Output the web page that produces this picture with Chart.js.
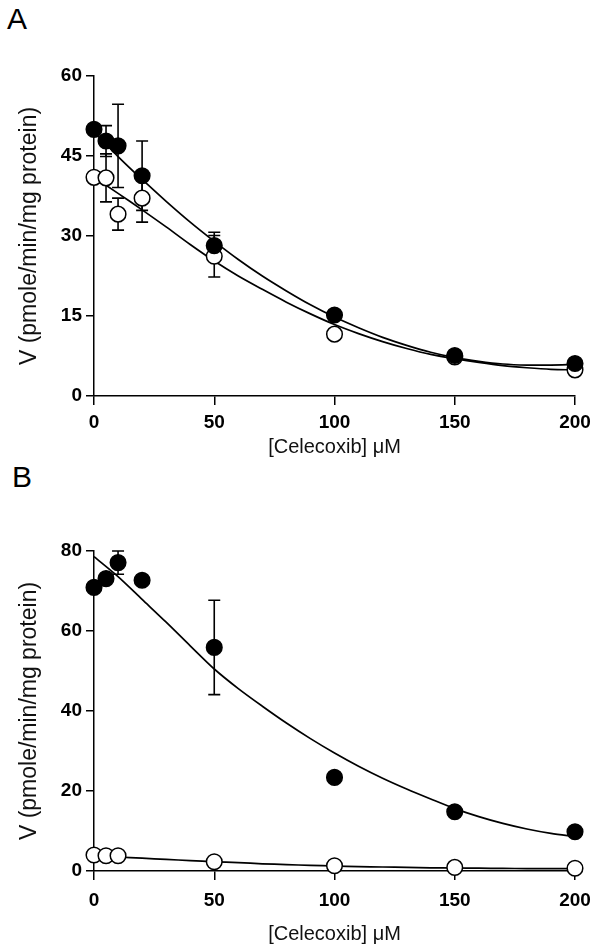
<!DOCTYPE html>
<html>
<head>
<meta charset="utf-8">
<script src="https://cdn.jsdelivr.net/npm/chart.js@4.4.1/dist/chart.umd.min.js"></script>
<style>
  body { margin: 0; background: #fff; }
  #wrap { position: relative; width: 601px; height: 952px; background: #fff; }
  canvas { position: absolute; left: 0; }
  .panel { position: absolute; font-family: "Liberation Sans", Arial, sans-serif; font-size: 30px; color: #000; line-height: 1; }
</style>
</head>
<body>
<div id="wrap">
  <div class="panel" style="left:7px; top:4px;">A</div>
  <div class="panel" style="left:12px; top:462px;">B</div>
  <canvas id="chartA" width="601" height="470" style="top:0;"></canvas>
  <canvas id="chartB" width="601" height="482" style="top:470px;"></canvas>
</div>
<script>
// concentrations (µM)
const conc = [0, 5, 10, 20, 50, 100, 150, 200];

// panel A - measured rates
const aFilled = [50.0, 47.8, 46.9, 41.3, 28.2, 15.2, 7.6, 6.1];
const aFilledErr = [0, 2.9, 7.8, 6.5, 2.5, 0, 0, 0];
const aOpen = [41.0, 40.9, 34.1, 37.1, 26.2, 11.6, 7.3, 4.9];
const aOpenErr = [0, 4.5, 3.0, 4.5, 3.9, 0, 0, 0];

// panel B - measured rates
const bFilled = [70.9, 73.1, 77.1, 72.7, 55.9, 23.4, 14.8, 9.8];
const bFilledErr = [0, 0, 2.9, 0, 11.8, 0, 0, 0];
const bOpenX = [0, 5, 10, 50, 100, 150, 200];
const bOpen = [4.0, 3.8, 3.8, 2.3, 1.3, 0.9, 0.7];

// fitted curves
const fitX = [0, 10, 20, 30, 40, 50, 60, 70, 80, 90, 100, 110, 120, 130, 140, 150, 160, 170, 180, 190, 200];
const aFitFilled = [49.5, 44.9, 40.6, 36.5, 32.6, 29.0, 25.6, 22.5, 19.7, 17.1, 14.8, 12.8, 11.0, 9.5, 8.2, 7.2, 6.5, 6.0, 5.8, 5.8, 5.9];
const aFitOpen = [41.0, 38.0, 34.9, 31.7, 28.4, 25.3, 22.5, 20.0, 17.6, 15.4, 13.4, 11.7, 10.2, 8.9, 7.8, 7.0, 6.3, 5.7, 5.3, 5.0, 4.9];
const bFitFilled = [78.6, 73.6, 67.9, 62.2, 56.3, 50.5, 45.6, 41.2, 37.0, 33.1, 29.5, 26.2, 23.2, 20.5, 18.0, 15.6, 13.6, 11.9, 10.5, 9.4, 8.6];
const bFitOpen = [3.8, 3.5, 3.2, 2.9, 2.6, 2.3, 2.1, 1.8, 1.6, 1.4, 1.25, 1.1, 1.0, 0.9, 0.8, 0.75, 0.7, 0.65, 0.6, 0.6, 0.6];

const xTicks = [0, 50, 100, 150, 200];
const aYTicks = [0, 15, 30, 45, 60];
const bYTicks = [0, 20, 40, 60, 80];

const FONT = '"Liberation Sans", Arial, sans-serif';

function pts(xs, ys) {
  return xs.map((x, i) => ({ x: x, y: ys[i] }));
}

// vertical error bars with caps, drawn under the markers
const errorBars = {
  id: 'errorBars',
  beforeDatasetsDraw(chart) {
    const ctx = chart.ctx;
    const xs = chart.scales.x, ys = chart.scales.y;
    chart.data.datasets.forEach(ds => {
      if (!ds.errors) return;
      ds.data.forEach((p, i) => {
        const e = ds.errors[i];
        if (!e) return;
        const px = xs.getPixelForValue(p.x);
        const top = ys.getPixelForValue(p.y + e);
        const bot = ys.getPixelForValue(p.y - e);
        ctx.save();
        ctx.strokeStyle = '#000';
        ctx.lineWidth = 1.6;
        ctx.beginPath();
        ctx.moveTo(px, top); ctx.lineTo(px, bot);
        ctx.moveTo(px - 6, top); ctx.lineTo(px + 6, top);
        ctx.moveTo(px - 6, bot); ctx.lineTo(px + 6, bot);
        ctx.stroke();
        ctx.restore();
      });
    });
  }
};

function makeChart(id, cfg) {
  const canvasH = cfg.height;
  return new Chart(document.getElementById(id), {
    type: 'scatter',
    data: {
      datasets: [
        { data: pts(fitX, cfg.fit1), showLine: true, pointRadius: 0, borderColor: '#000', borderWidth: 1.7, tension: 0.3, order: 4 },
        { data: pts(fitX, cfg.fit2), showLine: true, pointRadius: 0, borderColor: '#000', borderWidth: 1.7, tension: 0.3, order: 3 },
        { data: cfg.open, errors: cfg.openErr, pointRadius: 7.8, pointBorderWidth: 1.5, pointBackgroundColor: '#fff', pointBorderColor: '#000', order: 2 },
        { data: cfg.filled, errors: cfg.filledErr, pointRadius: 7.8, pointBorderWidth: 1.5, pointBackgroundColor: '#000', pointBorderColor: '#000', order: 1 }
      ]
    },
    options: {
      responsive: false,
      animation: false,
      clip: false,
      layout: { padding: { left: 0, top: cfg.top, right: 26, bottom: 0 } },
      plugins: { legend: { display: false }, tooltip: { enabled: false } },
      scales: {
        x: {
          type: 'linear', min: 0, max: 200,
          afterBuildTicks: s => { s.ticks = xTicks.map(v => ({ value: v })); },
          afterFit: s => { s.height = canvasH - cfg.bottom; },
          border: { color: '#000', width: 1.5 },
          grid: { drawOnChartArea: false, tickLength: 9, color: '#000', lineWidth: 1.5 },
          ticks: { color: '#000', padding: cfg.xPad, font: { family: FONT, size: 19, weight: 'bold' } },
          title: { display: true, text: '[Celecoxib] \u03bcM', color: '#111', padding: { top: 0, bottom: cfg.xTitlePad }, font: { family: FONT, size: 20 } }
        },
        y: {
          type: 'linear', min: 0, max: cfg.ymax,
          afterBuildTicks: s => { s.ticks = cfg.yTicks.map(v => ({ value: v })); },
          afterFit: s => { s.width = 94; },
          border: { color: '#000', width: 1.5 },
          grid: { drawOnChartArea: false, tickLength: 8, color: '#000', lineWidth: 1.5 },
          ticks: { color: '#000', padding: 4, font: { family: FONT, size: 19, weight: 'bold' } },
          title: { display: true, text: 'V (pmole/min/mg protein)', color: '#111', padding: { top: 16, bottom: 0 }, font: { family: FONT, size: 23 } }
        }
      }
    },
    plugins: [errorBars]
  });
}

makeChart('chartA', {
  height: 470, top: 76, bottom: 396, ymax: 60, yTicks: aYTicks, xPad: 6, xTitlePad: 11,
  fit1: aFitFilled, fit2: aFitOpen,
  filled: pts(conc, aFilled), filledErr: aFilledErr,
  open: pts(conc, aOpen), openErr: aOpenErr
});

makeChart('chartB', {
  height: 482, top: 81, bottom: 401, ymax: 80, yTicks: bYTicks, xPad: 9, xTitlePad: 6,
  fit1: bFitFilled, fit2: bFitOpen,
  filled: pts(conc, bFilled), filledErr: bFilledErr,
  open: pts(bOpenX, bOpen), openErr: null
});
</script>
</body>
</html>
